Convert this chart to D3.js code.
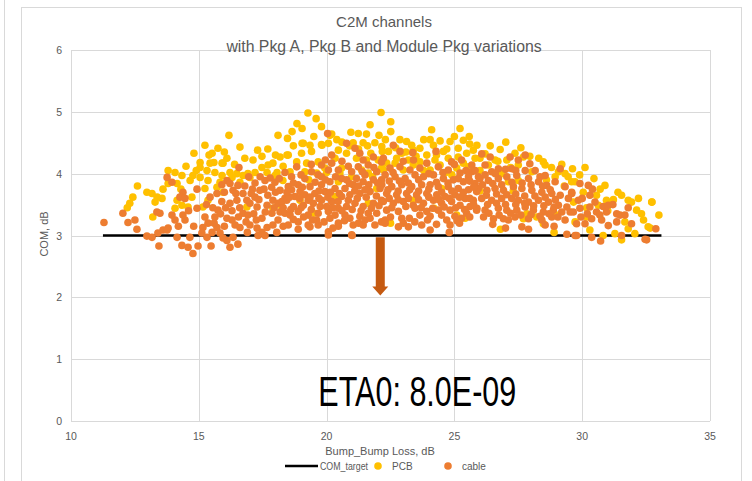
<!DOCTYPE html>
<meta charset="UTF-8">
<style>
    body { margin: 0; background: #fff; }
    text { font-family: "Liberation Sans", Arial, sans-serif; fill: #595959; }
</style>
<body>
<div id="chart"></div>
<script src="https://d3js.org/d3.v7.min.js"></script>
<script>
    // x ticks / y ticks
    var xTicks = [10, 15, 20, 25, 30, 35];
    var yTicks = [0, 1, 2, 3, 4, 5, 6];

    // COM_target line
    var targetX = [11.25, 33.1];
    var targetY = [3, 3];

    // PCB points [loss, COM]
    var pcb = [
        [12.3,3.52],[12.42,3.62],[12.97,3.70],[13.17,3.68],[13.37,3.62],[13.56,3.60],[13.29,3.54],[13.2,3.30],
        [14.07,4.02],[14.34,3.97],[14.15,3.84],[13.8,3.84],[14.15,3.57],[14.34,3.49],[14.58,3.46],[14.07,3.44],
        [15.24,4.46],[14.81,4.33],[15.75,4.41],[16.18,4.62],[16.61,4.43],[15.52,4.33],[15.05,4.18],[15.05,4.10],
        [15.44,4.17],[15.59,4.18],[15.95,4.17],[16.1,4.25],[15.91,4.17],[17.12,4.22],[17.47,4.28],[18.1,4.62],
        [18.45,4.30],[18.18,4.27],[17.71,4.14],[17.9,4.17],[17.47,4.10],[17.2,4.02],[16.92,4.0],[16.73,3.97],
        [16.49,4.0],[16.22,4.02],[15.91,3.97],[15.63,4.02],[15.32,4.05],[15.05,3.94],[14.77,3.97],[14.66,3.89],
        [15.36,3.89],[15.83,3.86],[16.3,3.94],[16.61,3.86],[17.0,3.94],[17.67,4.02],[18.06,4.02],[18.29,3.89],
        [17.98,3.97],[15.24,3.76],[15.71,3.78],[15.95,3.70],[15.36,3.57],[14.73,3.62],[15.16,3.46],[16.88,3.46],
        [17.9,3.44],[18.25,3.46],[18.84,4.81],[19.27,4.98],[19.59,4.89],[19.04,4.73],[19.04,4.49],[19.35,4.46],
        [19.82,4.46],[20.13,4.62],[20.6,4.51],
        [18.47,4.57],[22.13,4.99],[21.7,4.79],[20.95,4.67],[21.24,4.65],[21.56,4.64],[20.2,4.64],[19.8,4.47],
        [20.07,4.49],[19.09,4.49],[21.04,4.5],[21.43,4.5],[21.89,4.5],[20.46,4.38],[18.5,4.30],[19.41,4.36],
        [19.02,4.33],[20.78,4.33],[21.73,4.33],[22.18,4.36],[18.83,4.19],[19.22,4.17],[19.67,4.19],[20.33,4.25],
        [21.17,4.25],[21.56,4.22],[22.02,4.22],[19.93,4.09],[20.59,4.09],[20.52,4.01],[19.15,4.03],[18.57,4.03],
        [20.98,3.95],[21.63,4.01],[20.46,3.87],[20.33,3.63],[21.63,3.52],[21.96,3.76],[18.96,3.57],[22.15,4.09],
        [21.37,4.06],[19.61,4.01],
        [22.51,4.84],[22.51,4.68],[24.11,4.71],[25.22,4.73],[25.58,4.60],[25.35,4.54],[22.87,4.55],[23.13,4.52],
        [23.33,4.46],[24.05,4.55],[24.44,4.53],[24.83,4.52],[22.16,4.44],[23.65,4.41],[24.18,4.46],[25.15,4.41],
        [25.74,4.38],[22.42,4.36],[22.94,4.33],[23.39,4.38],[23.92,4.30],[24.57,4.36],[25.48,4.33],[22.74,4.25],
        [23.2,4.22],[24.76,4.25],[25.15,4.27],[25.81,4.25],[22.35,4.17],[23.65,4.19],[24.24,4.22],[24.44,4.14],
        [25.35,4.17],[25.55,4.11],[22.22,4.06],[24.05,4.06],[24.63,4.01],[25.09,4.09],[24.5,3.76],[23.39,3.57],
        [25.42,3.28],[25.09,3.33],[23.39,4.14],[22.68,4.17],[23.0,4.06],
        [27.01,4.51],[26.79,4.39],[25.88,4.46],[26.2,4.32],[27.37,4.33],[26.59,4.22],[27.05,4.22],[27.7,4.27],
        [27.5,4.14],[28.48,4.19],[28.55,4.14],[28.03,4.03],[29.07,4.03],[29.33,4.0],[28.94,3.95],[29.59,3.87],
        [27.11,3.87],[27.5,3.89],[26.85,4.0],[26.0,4.05],[26.33,4.14],[29.66,3.54],[27.7,3.27],[27.83,3.35],
        [28.22,3.30],[29.0,3.33],[28.48,3.19],
        [29.62,4.08],[30.11,4.10],[29.72,3.87],[30.46,3.92],[30.89,3.81],[30.04,3.70],[30.56,3.65],[30.95,3.57],
        [31.54,3.65],[31.8,3.57],[31.93,3.54],[32.13,3.41],[32.32,3.35],[32.72,3.54],[33.0,3.33],[31.22,3.58],
        [30.63,3.49],[30.17,3.30],[31.67,3.22],[31.8,3.11],[31.28,3.03],[31.54,2.93],[30.82,3.0],[30.3,3.09],
        [32.06,3.03],[32.58,3.14],[29.72,3.22],[30.17,3.45],[32.66,3.12],[32.73,3.54],
        [16.8,4.25],[17.3,4.38],[17.7,4.40],[18.0,4.30],[18.3,4.12],[18.7,4.45],[18.65,4.68],[19.5,4.60],
        [19.8,4.76],[20.4,4.55],[20.9,4.45],[21.25,4.40],[21.6,4.45],[22.05,4.62],[22.3,4.55],[22.7,4.42],
        [23.1,4.35],[23.5,4.28],[23.8,4.55],[24.3,4.30],[24.7,4.40],[25.0,4.60],[25.6,4.48],[26.0,4.25],
        [26.4,4.45],[26.7,4.20],[27.2,4.10],[27.6,4.42],[27.95,4.28],[28.3,4.25],[28.8,4.10],[29.2,4.15],
        [29.45,3.95],[16.4,4.15],[16.0,4.35],[15.4,4.30],[14.5,4.12],[14.9,4.05],[13.8,4.05],[14.3,3.75],
        [13.6,3.75],[12.6,3.80],[12.2,3.45],
        [19.3,3.90],[20.0,4.02],[21.8,3.95],[23.8,4.05],[24.9,3.98],[26.0,3.72],[27.3,3.72],[28.6,3.90],
        [29.3,3.80],[29.9,3.98],[30.7,3.75],[31.4,3.70],[32.2,3.60],[31.0,3.40],[32.4,3.25],[19.5,3.36],
        [22.5,3.20],[24.2,3.44],[26.8,3.10],[28.9,3.05]
    ];

    // cable points [loss, COM]
    var cable = [
        [11.29,3.21],[12.03,3.36],[12.23,3.21],[12.5,3.25],[12.58,3.10],[13.36,3.38],[13.48,3.36],[12.97,2.99],
        [13.17,2.97],[13.4,3.04],[13.6,3.09],[13.8,3.12],[13.44,2.83],[13.76,3.94],[13.95,3.86],[14.38,3.70],
        [14.26,3.62],[14.46,3.60],[13.95,3.33],[14.38,3.33],[14.46,3.25],[14.07,3.25],[14.15,2.97],[13.76,3.09],
        [14.34,2.84],[14.58,2.81],[14.77,2.71],[14.97,2.83],[14.65,2.97],[14.8,3.15],[14.6,3.4],[14.2,3.15],
        [14.93,3.75],[14.93,3.44],[15.24,3.30],[15.36,3.20],[15.16,3.13],[15.12,3.04],[15.32,2.97],[15.52,3.05],
        [15.71,3.13],[15.83,3.04],[15.48,2.83],[15.95,2.96],[16.1,2.92],[16.34,2.97],[16.22,2.81],[16.53,2.86],
        [15.63,3.30],[15.75,3.41],[16.1,3.28],[16.3,3.25],[16.42,3.17],[16.61,3.13],[16.73,3.36],[16.92,3.33],
        [17.0,3.17],[17.28,3.12],[17.47,3.05],[17.67,3.13],[17.9,3.17],[18.1,3.25],[18.18,3.38],[18.37,3.36],
        [17.59,3.0],[17.32,3.0],[15.44,3.62],[15.71,3.68],[16.1,3.89],[16.22,3.84],[16.34,3.73],[16.53,3.81],
        [16.57,4.10],[16.73,3.68],[16.88,3.57],[16.49,3.57],[16.22,3.52],[17.2,3.62],[17.39,3.73],[17.59,3.89],
        [17.79,3.93],[17.98,3.86],[18.18,3.73],[18.37,4.02],[18.37,3.6],[17.9,3.57],[17.67,3.49],[17.28,3.46],
        [17.0,3.52],[17.47,3.28],[17.86,3.36],[18.1,3.52],[16.8,3.8],[17.1,3.75],[17.4,3.95],[17.7,3.65],
        [18.0,3.7],[18.25,3.55],[17.15,3.35],[16.6,3.45],[18.3,3.15],[15.9,3.55],[15.55,3.45],[16.0,3.7],
        [20.04,4.65],[20.2,4.30],[20.78,4.49],[21.11,4.41],[21.3,4.33],[21.43,4.22],[21.83,4.27],[22.15,4.19],
        [18.83,4.11],[19.41,4.03],[19.8,4.14],[20.07,4.06],[20.2,4.17],[19.67,3.98],[19.15,3.92],[18.63,3.95],
        [18.5,3.79],[18.89,3.82],[19.35,3.79],[19.8,3.82],[20.13,3.87],[20.59,3.92],[20.98,4.03],[21.24,4.11],
        [21.63,4.14],[21.96,4.03],[21.83,3.90],[21.43,3.87],[21.04,3.82],[20.72,3.76],[20.33,3.76],[19.93,3.71],
        [19.54,3.68],[19.15,3.66],[18.76,3.63],[18.44,3.57],[18.7,3.47],[19.09,3.49],[19.48,3.52],[19.8,3.57],
        [20.2,3.55],[20.59,3.63],[20.91,3.66],[21.3,3.68],[21.7,3.71],[22.09,3.76],[22.15,3.57],[21.83,3.52],
        [21.43,3.47],[21.11,3.52],[20.78,3.47],[20.46,3.44],[20.07,3.39],[19.67,3.36],[19.28,3.33],[18.89,3.39],
        [18.57,3.33],[18.5,3.17],[18.89,3.22],[19.28,3.17],[19.67,3.17],[20.13,3.28],[20.46,3.20],[20.91,3.28],
        [21.3,3.31],[21.5,3.25],[21.89,3.17],[22.15,3.22],[21.04,3.17],[18.89,3.10],[19.35,3.14],[20.07,3.06],
        [20.07,3.01],[20.98,3.01],[20.46,3.15],[21.43,3.17],[18.63,3.74],[18.96,3.71],[19.8,3.95],[20.46,4.06],
        [20.78,3.90],[21.17,3.92],[21.5,3.98],[22.15,3.90],[19.28,3.57],[20.0,3.47],[20.33,3.33],[19.61,3.25],
        [21.63,3.36],[21.96,3.36],[20.72,3.33],
        [22.61,4.46],[22.87,4.36],[23.37,4.34],[24.28,4.36],[24.89,4.19],[25.28,4.22],[25.68,4.14],[25.68,4.03],
        [25.94,3.95],[22.22,4.25],[22.48,4.09],[22.87,4.11],[23.26,4.06],[23.65,4.09],[23.92,4.17],[24.37,4.11],
        [24.76,4.06],[25.22,4.01],[25.55,3.95],[22.29,3.98],[22.68,3.95],[23.07,3.92],[23.46,3.98],[23.79,3.95],
        [24.18,3.98],[24.57,3.92],[24.96,3.90],[25.35,3.87],[25.81,3.84],[22.16,3.82],[22.55,3.79],[22.94,3.82],
        [23.33,3.79],[23.72,3.82],[24.05,3.82],[24.37,3.79],[24.76,3.79],[25.15,3.76],[25.55,3.74],[25.87,3.71],
        [22.35,3.68],[22.74,3.66],[23.13,3.68],[23.52,3.66],[23.92,3.68],[24.31,3.66],[24.63,3.63],[25.02,3.66],
        [25.42,3.60],[25.74,3.57],[22.22,3.55],[22.61,3.52],[23.0,3.55],[23.39,3.49],[23.79,3.52],[24.18,3.57],
        [24.5,3.52],[24.89,3.55],[25.22,3.49],[25.61,3.47],[22.35,3.41],[22.81,3.39],[23.46,3.44],[23.92,3.39],
        [24.37,3.41],[24.83,3.41],[25.48,3.36],[25.87,3.41],[22.29,3.25],[22.94,3.28],[23.65,3.33],[24.05,3.31],
        [24.5,3.33],[25.02,3.31],[25.28,3.28],[22.29,3.20],[22.81,3.14],[23.2,3.14],[23.24,3.28],[23.72,3.17],
        [24.05,3.09],[24.83,3.17],[25.2,3.20],
        [26.07,4.32],[26.4,4.27],[27.18,4.27],[27.77,4.30],[27.5,4.22],[25.81,4.05],[26.2,4.14],[26.72,4.08],
        [26.46,4.03],[27.24,4.08],[27.77,4.05],[28.16,4.05],[28.55,3.97],[29.14,4.08],[28.94,3.87],[29.33,3.79],
        [29.59,3.70],[26.0,3.92],[26.33,3.89],[26.72,3.92],[27.05,3.95],[27.44,3.97],[27.9,3.92],[28.29,3.87],
        [28.61,3.81],[25.94,3.76],[26.27,3.73],[26.59,3.76],[26.92,3.73],[27.31,3.79],[27.64,3.76],[28.03,3.73],
        [28.42,3.70],[28.81,3.68],[29.14,3.65],[29.46,3.6],[26.07,3.6],[26.46,3.57],[26.85,3.6],[27.24,3.6],
        [27.5,3.57],[27.9,3.54],[28.29,3.57],[28.68,3.54],[29.07,3.49],[29.4,3.46],[25.88,3.44],[26.2,3.41],
        [26.72,3.44],[27.05,3.41],[27.44,3.41],[27.77,3.46],[28.09,3.41],[28.48,3.38],[28.87,3.41],[29.2,3.38],
        [29.53,3.38],[26.14,3.30],[26.53,3.27],[26.92,3.27],[27.37,3.30],[27.9,3.27],[28.42,3.25],[28.81,3.30],
        [29.33,3.25],[29.4,3.02],[29.72,3.0],[27.11,3.25],[27.64,3.14],[28.55,3.17],
        [29.91,3.84],[30.24,3.81],[29.59,3.68],[29.85,3.57],[30.3,3.65],[30.5,3.54],[30.3,3.46],[30.82,3.47],
        [31.02,3.49],[29.91,3.44],[29.65,3.38],[30.56,3.38],[30.69,3.33],[30.37,3.27],[30.76,3.25],[31.35,3.35],
        [31.48,3.33],[31.67,3.33],[31.8,3.45],[31.35,3.22],[31.02,3.16],[31.93,3.19],[29.78,3.19],[30.11,3.19],
        [29.78,3.0],[30.37,2.97],[30.72,2.91],[31.54,3.0],[32.52,2.93],[32.88,3.11],[32.46,2.94],
        [21.0,3.0],[24.8,3.05],
        [18.7,3.26],[19.1,3.30],[19.45,3.25],[19.9,3.22],[20.25,3.12],[20.7,3.24],[21.25,3.20],[21.7,3.28],
        [18.6,3.42],[19.0,3.45],[19.4,3.42],[19.75,3.47],[20.25,3.45],[20.6,3.40],[21.0,3.42],[21.35,3.40],
        [21.75,3.44],[22.05,3.48],[18.55,3.62],[18.95,3.60],[19.35,3.62],[19.7,3.60],[20.05,3.62],[20.45,3.55],
        [20.85,3.57],[21.2,3.60],[21.55,3.62],[21.95,3.64],[18.7,3.85],[19.05,3.78],[19.55,3.86],[19.95,3.90],
        [20.35,3.95],[20.9,3.84],[21.25,3.80],[21.65,3.82],[22.0,3.85],[18.45,3.70],[19.7,3.72],[20.15,3.70],
        [20.5,3.68],[21.1,3.72],[21.5,3.74],[19.0,3.98],[19.4,4.15],[19.95,4.22],[20.6,4.20],[21.4,4.03],
        [21.85,4.10],[20.85,4.12],
        [22.5,3.30],[23.0,3.20],[23.45,3.22],[23.95,3.25],[24.3,3.18],[24.7,3.25],[25.1,3.24],[25.6,3.30],
        [22.55,3.45],[23.1,3.47],[23.7,3.45],[24.15,3.44],[24.6,3.46],[25.05,3.45],[25.4,3.42],[25.75,3.50],
        [22.45,3.60],[22.8,3.58],[23.2,3.60],[23.6,3.58],[24.0,3.62],[24.4,3.58],[24.8,3.60],[25.2,3.62],
        [25.6,3.60],[22.4,3.74],[22.8,3.72],[23.25,3.74],[23.6,3.72],[24.0,3.75],[24.5,3.70],[24.9,3.72],
        [25.35,3.70],[25.75,3.78],[22.45,3.88],[22.85,3.88],[23.2,3.85],[23.6,3.90],[24.3,3.86],[24.75,3.85],
        [25.15,3.92],[25.6,3.88],[22.6,4.02],[23.0,4.20],[23.4,4.22],[24.0,4.00],[24.55,4.02],[25.0,4.15],
        [25.45,4.05],
        [26.35,3.36],[26.75,3.33],[27.2,3.36],[27.6,3.33],[28.0,3.34],[28.35,3.31],[28.7,3.35],[29.05,3.30],
        [26.3,3.50],[26.65,3.52],[27.0,3.50],[27.4,3.50],[27.75,3.52],[28.1,3.48],[28.5,3.48],[28.9,3.46],
        [26.25,3.65],[26.65,3.67],[27.05,3.66],[27.4,3.67],[27.75,3.64],[28.15,3.64],[28.55,3.62],[28.95,3.58],
        [26.1,3.82],[26.5,3.84],[26.85,3.82],[27.25,3.86],[27.65,3.85],[28.0,3.82],[28.45,3.80],[28.75,3.74],
        [26.2,3.98],[26.6,4.00],[27.0,4.07],[27.4,4.05],[27.95,4.16],[28.35,3.95],[26.5,3.18],[27.0,3.12],
        [27.9,3.10],[28.9,3.15],
        [17.05,3.68],[17.35,3.58],[17.55,3.75],[17.85,3.78],[18.15,3.92],[17.2,3.85],[16.95,3.95],[17.6,3.38],
        [17.95,3.45],[18.3,3.45],[17.25,3.25],[16.85,3.22],[16.55,3.30],[18.05,3.05],[16.9,3.05],
        [15.3,3.50],[15.85,3.35],[16.05,3.45],[15.6,3.20],[16.3,3.40],[16.0,3.15],[16.45,3.68],[15.9,3.82],
        [30.0,3.60],[30.4,3.75],[30.95,3.38],[31.2,3.50],[30.2,3.35],[29.95,3.30]
    ];

    // annotation
    var arrowX = 22.1, arrowFrom = 2.97, arrowTo = 2.03;
    var noteText = "ETA0: 8.0E-09", noteX = 23.55, noteY = 0.24;

    var width = 752, height = 481;

    var svg = d3.select("#chart").append("svg")
            .attr("width", width)
            .attr("height", height);

    // outer frame
    svg.append("line").attr("x1", 4.5).attr("x2", 4.5).attr("y1", 0).attr("y2", height)
            .attr("stroke", "#d9d9d9");
    svg.append("rect").attr("x", 21.5).attr("y", 7.5).attr("width", 720).attr("height", 500)
            .attr("fill", "#fff").attr("stroke", "#d9d9d9");

    var x = d3.scaleLinear().domain([10, 35]).range([71, 710]);
    var y = d3.scaleLinear().domain([0, 6]).range([421, 50]);

    // gridlines
    svg.append("g").selectAll("line").data(yTicks).enter().append("line")
            .attr("x1", x(10)).attr("x2", x(35))
            .attr("y1", function (d) { return Math.round(y(d)) + 0.5; })
            .attr("y2", function (d) { return Math.round(y(d)) + 0.5; })
            .attr("stroke", "#d9d9d9");
    svg.append("g").selectAll("line").data(xTicks).enter().append("line")
            .attr("y1", y(0)).attr("y2", y(6))
            .attr("x1", function (d) { return Math.round(x(d)) + 0.5; })
            .attr("x2", function (d) { return Math.round(x(d)) + 0.5; })
            .attr("stroke", "#d9d9d9");

    // tick labels
    svg.append("g").selectAll("text").data(yTicks).enter().append("text")
            .attr("x", x(10) - 9)
            .attr("y", function (d) { return y(d) + 4; })
            .attr("text-anchor", "end")
            .style("font-size", "10.5px")
            .text(function (d) { return d; });
    svg.append("g").selectAll("text").data(xTicks).enter().append("text")
            .attr("x", function (d) { return x(d); })
            .attr("y", y(0) + 19)
            .attr("text-anchor", "middle")
            .style("font-size", "10.5px")
            .text(function (d) { return d; });

    // axis titles
    svg.append("text").attr("x", 380).attr("y", 455).attr("text-anchor", "middle")
            .style("font-size", "11px").text("Bump_Bump Loss, dB");
    svg.append("text").attr("transform", "translate(48,234) rotate(-90)").attr("text-anchor", "middle")
            .style("font-size", "11px").text("COM, dB");

    // titles
    svg.append("text").attr("x", 384).attr("y", 27).attr("text-anchor", "middle")
            .style("font-size", "15px").text("C2M channels");
    svg.append("text").attr("x", 384).attr("y", 52).attr("text-anchor", "middle")
            .style("font-size", "15.8px").text("with Pkg A, Pkg B and Module Pkg variations");

    // COM_target line
    svg.append("line")
            .attr("x1", x(targetX[0])).attr("x2", x(targetX[1]))
            .attr("y1", y(targetY[0])).attr("y2", y(targetY[1]))
            .attr("stroke", "#000").attr("stroke-width", 2.5);

    // PCB then cable on top
    svg.append("g").selectAll("circle").data(pcb).enter().append("circle")
            .attr("cx", function (d) { return x(d[0]); })
            .attr("cy", function (d) { return y(d[1]); })
            .attr("r", 3.8)
            .attr("fill", "#ffc000");
    svg.append("g").selectAll("circle").data(cable).enter().append("circle")
            .attr("cx", function (d) { return x(d[0]); })
            .attr("cy", function (d) { return y(d[1]); })
            .attr("r", 3.8)
            .attr("fill", "#ed7d31");

    // down arrow
    var ax = x(arrowX), ay0 = y(arrowFrom), ay1 = y(arrowTo);
    svg.append("path")
            .attr("d", "M" + (ax - 4.5) + "," + ay0 + "H" + (ax + 4.5) + "V" + (ay1 - 9)
                    + "H" + (ax + 8) + "L" + ax + "," + ay1 + "L" + (ax - 8) + "," + (ay1 - 9)
                    + "H" + (ax - 4.5) + "Z")
            .attr("fill", "#c55a11");

    // big note
    svg.append("text").attr("x", x(noteX)).attr("y", y(noteY)).attr("text-anchor", "middle")
            .attr("textLength", 198).attr("lengthAdjust", "spacingAndGlyphs")
            .style("font-size", "42px").style("fill", "#000").text(noteText);

    // legend
    var lg = svg.append("g");
    lg.append("line").attr("x1", 285).attr("x2", 318).attr("y1", 466).attr("y2", 466)
            .attr("stroke", "#000").attr("stroke-width", 2.5);
    lg.append("text").attr("x", 320).attr("y", 469.5).style("font-size", "10px")
            .attr("textLength", 48).attr("lengthAdjust", "spacingAndGlyphs").text("COM_target");
    lg.append("circle").attr("cx", 378).attr("cy", 466).attr("r", 3.8).attr("fill", "#ffc000");
    lg.append("text").attr("x", 392).attr("y", 469.5).style("font-size", "10px").text("PCB");
    lg.append("circle").attr("cx", 448).attr("cy", 466).attr("r", 3.8).attr("fill", "#ed7d31");
    lg.append("text").attr("x", 462).attr("y", 469.5).style("font-size", "10px").text("cable");
</script>
</body>
